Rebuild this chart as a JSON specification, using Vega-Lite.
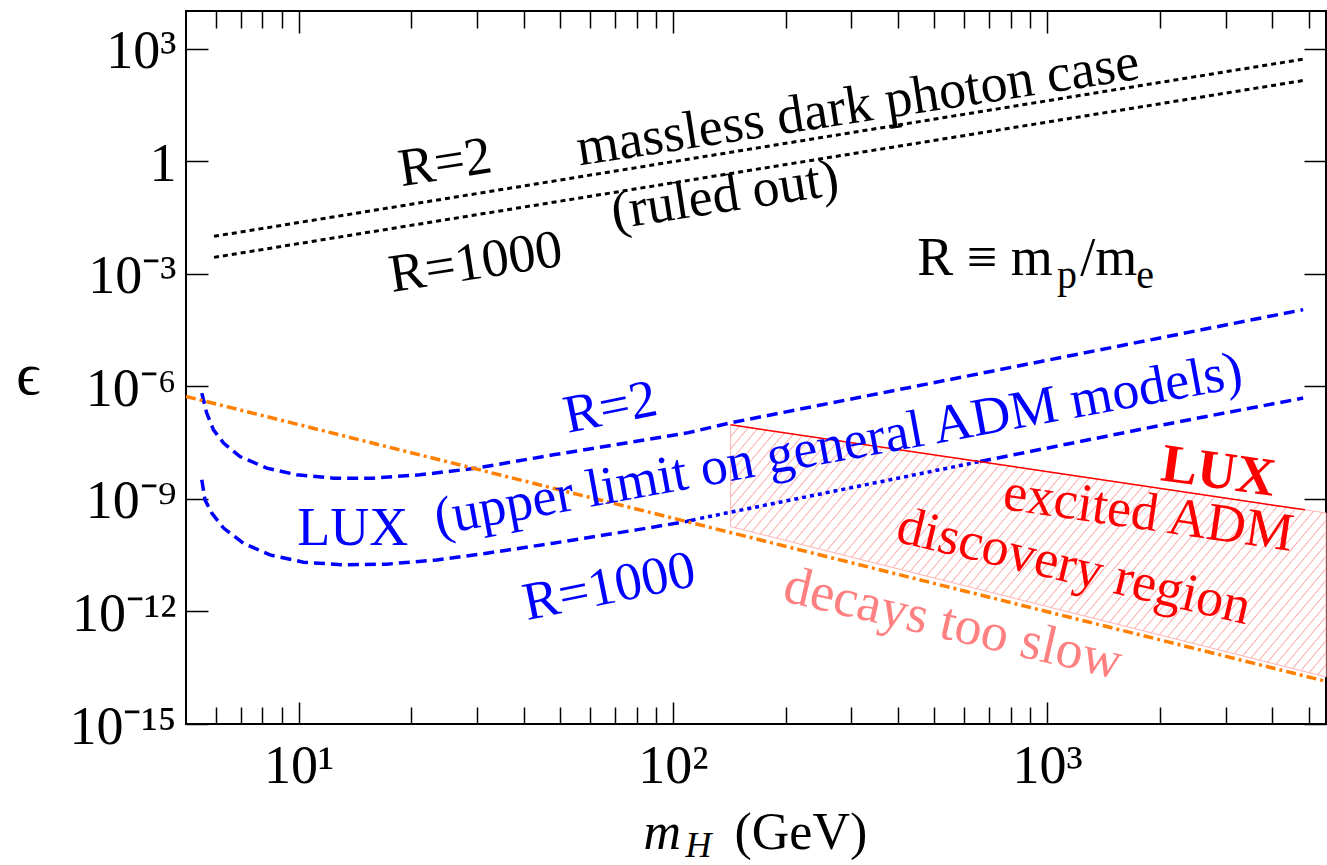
{
  "$schema": "https://vega.github.io/schema/vega-lite/v6.json",
  "width": 1140,
  "height": 713,
  "autosize": {"type": "none"},
  "padding": {"left": 186, "top": 11, "right": 1, "bottom": 141},
  "background": "white",
  "config": {
    "view": {"stroke": "black", "strokeWidth": 2},
    "font": "Liberation Serif",
    "axis": {"grid": false, "domain": false, "labelFont": "Liberation Serif", "titleFont": "Liberation Serif", "labelColor": "black", "titleColor": "black", "tickColor": "black", "tickWidth": 1.5, "titleFontWeight": "normal", "labelFlush": false, "labelOverlap": false, "labelBound": false}
  },
  "resolve": {"axis": {"x": "independent", "y": "independent"}},
  "layer": [
    {
      "data": {"values": [
        {"m": 142.6, "top": 9.4e-8, "bottom": 1.82e-10},
        {"m": 4887, "top": 5.09e-10, "bottom": 2.48e-14},
        {"m": 5560, "top": 4.21e-10, "bottom": 1.79e-14}
      ]},
      "mark": {"type": "area", "stroke": "#ffb4b4", "strokeWidth": 1,
        "fill": {"gradient": "linear", "x1": 0, "y1": 0, "x2": 1.203, "y2": 0.427, "stops": [
{"offset":0,"color":"#ffa8a8"},{"offset":0.0015,"color":"#fff"},{"offset":0.011,"color":"#fff"},{"offset":0.0125,"color":"#ffa8a8"},{"offset":0.014,"color":"#fff"},{"offset":0.0235,"color":"#fff"},{"offset":0.025,"color":"#ffa8a8"},{"offset":0.0265,"color":"#fff"},{"offset":0.036,"color":"#fff"},{"offset":0.0375,"color":"#ffa8a8"},{"offset":0.039,"color":"#fff"},{"offset":0.0485,"color":"#fff"},{"offset":0.05,"color":"#ffa8a8"},{"offset":0.0515,"color":"#fff"},{"offset":0.061,"color":"#fff"},{"offset":0.0625,"color":"#ffa8a8"},{"offset":0.064,"color":"#fff"},{"offset":0.0735,"color":"#fff"},{"offset":0.075,"color":"#ffa8a8"},{"offset":0.0765,"color":"#fff"},{"offset":0.086,"color":"#fff"},{"offset":0.0875,"color":"#ffa8a8"},{"offset":0.089,"color":"#fff"},{"offset":0.0985,"color":"#fff"},
{"offset":0.1,"color":"#ffa8a8"},{"offset":0.1015,"color":"#fff"},{"offset":0.111,"color":"#fff"},{"offset":0.1125,"color":"#ffa8a8"},{"offset":0.114,"color":"#fff"},{"offset":0.1235,"color":"#fff"},{"offset":0.125,"color":"#ffa8a8"},{"offset":0.1265,"color":"#fff"},{"offset":0.136,"color":"#fff"},{"offset":0.1375,"color":"#ffa8a8"},{"offset":0.139,"color":"#fff"},{"offset":0.1485,"color":"#fff"},{"offset":0.15,"color":"#ffa8a8"},{"offset":0.1515,"color":"#fff"},{"offset":0.161,"color":"#fff"},{"offset":0.1625,"color":"#ffa8a8"},{"offset":0.164,"color":"#fff"},{"offset":0.1735,"color":"#fff"},{"offset":0.175,"color":"#ffa8a8"},{"offset":0.1765,"color":"#fff"},{"offset":0.186,"color":"#fff"},{"offset":0.1875,"color":"#ffa8a8"},{"offset":0.189,"color":"#fff"},{"offset":0.1985,"color":"#fff"},
{"offset":0.2,"color":"#ffa8a8"},{"offset":0.2015,"color":"#fff"},{"offset":0.211,"color":"#fff"},{"offset":0.2125,"color":"#ffa8a8"},{"offset":0.214,"color":"#fff"},{"offset":0.2235,"color":"#fff"},{"offset":0.225,"color":"#ffa8a8"},{"offset":0.2265,"color":"#fff"},{"offset":0.236,"color":"#fff"},{"offset":0.2375,"color":"#ffa8a8"},{"offset":0.239,"color":"#fff"},{"offset":0.2485,"color":"#fff"},{"offset":0.25,"color":"#ffa8a8"},{"offset":0.2515,"color":"#fff"},{"offset":0.261,"color":"#fff"},{"offset":0.2625,"color":"#ffa8a8"},{"offset":0.264,"color":"#fff"},{"offset":0.2735,"color":"#fff"},{"offset":0.275,"color":"#ffa8a8"},{"offset":0.2765,"color":"#fff"},{"offset":0.286,"color":"#fff"},{"offset":0.2875,"color":"#ffa8a8"},{"offset":0.289,"color":"#fff"},{"offset":0.2985,"color":"#fff"},
{"offset":0.3,"color":"#ffa8a8"},{"offset":0.3015,"color":"#fff"},{"offset":0.311,"color":"#fff"},{"offset":0.3125,"color":"#ffa8a8"},{"offset":0.314,"color":"#fff"},{"offset":0.3235,"color":"#fff"},{"offset":0.325,"color":"#ffa8a8"},{"offset":0.3265,"color":"#fff"},{"offset":0.336,"color":"#fff"},{"offset":0.3375,"color":"#ffa8a8"},{"offset":0.339,"color":"#fff"},{"offset":0.3485,"color":"#fff"},{"offset":0.35,"color":"#ffa8a8"},{"offset":0.3515,"color":"#fff"},{"offset":0.361,"color":"#fff"},{"offset":0.3625,"color":"#ffa8a8"},{"offset":0.364,"color":"#fff"},{"offset":0.3735,"color":"#fff"},{"offset":0.375,"color":"#ffa8a8"},{"offset":0.3765,"color":"#fff"},{"offset":0.386,"color":"#fff"},{"offset":0.3875,"color":"#ffa8a8"},{"offset":0.389,"color":"#fff"},{"offset":0.3985,"color":"#fff"},
{"offset":0.4,"color":"#ffa8a8"},{"offset":0.4015,"color":"#fff"},{"offset":0.411,"color":"#fff"},{"offset":0.4125,"color":"#ffa8a8"},{"offset":0.414,"color":"#fff"},{"offset":0.4235,"color":"#fff"},{"offset":0.425,"color":"#ffa8a8"},{"offset":0.4265,"color":"#fff"},{"offset":0.436,"color":"#fff"},{"offset":0.4375,"color":"#ffa8a8"},{"offset":0.439,"color":"#fff"},{"offset":0.4485,"color":"#fff"},{"offset":0.45,"color":"#ffa8a8"},{"offset":0.4515,"color":"#fff"},{"offset":0.461,"color":"#fff"},{"offset":0.4625,"color":"#ffa8a8"},{"offset":0.464,"color":"#fff"},{"offset":0.4735,"color":"#fff"},{"offset":0.475,"color":"#ffa8a8"},{"offset":0.4765,"color":"#fff"},{"offset":0.486,"color":"#fff"},{"offset":0.4875,"color":"#ffa8a8"},{"offset":0.489,"color":"#fff"},{"offset":0.4985,"color":"#fff"},
{"offset":0.5,"color":"#ffa8a8"},{"offset":0.5015,"color":"#fff"},{"offset":0.511,"color":"#fff"},{"offset":0.5125,"color":"#ffa8a8"},{"offset":0.514,"color":"#fff"},{"offset":0.5235,"color":"#fff"},{"offset":0.525,"color":"#ffa8a8"},{"offset":0.5265,"color":"#fff"},{"offset":0.536,"color":"#fff"},{"offset":0.5375,"color":"#ffa8a8"},{"offset":0.539,"color":"#fff"},{"offset":0.5485,"color":"#fff"},{"offset":0.55,"color":"#ffa8a8"},{"offset":0.5515,"color":"#fff"},{"offset":0.561,"color":"#fff"},{"offset":0.5625,"color":"#ffa8a8"},{"offset":0.564,"color":"#fff"},{"offset":0.5735,"color":"#fff"},{"offset":0.575,"color":"#ffa8a8"},{"offset":0.5765,"color":"#fff"},{"offset":0.586,"color":"#fff"},{"offset":0.5875,"color":"#ffa8a8"},{"offset":0.589,"color":"#fff"},{"offset":0.5985,"color":"#fff"},
{"offset":0.6,"color":"#ffa8a8"},{"offset":0.6015,"color":"#fff"},{"offset":0.611,"color":"#fff"},{"offset":0.6125,"color":"#ffa8a8"},{"offset":0.614,"color":"#fff"},{"offset":0.6235,"color":"#fff"},{"offset":0.625,"color":"#ffa8a8"},{"offset":0.6265,"color":"#fff"},{"offset":0.636,"color":"#fff"},{"offset":0.6375,"color":"#ffa8a8"},{"offset":0.639,"color":"#fff"},{"offset":0.6485,"color":"#fff"},{"offset":0.65,"color":"#ffa8a8"},{"offset":0.6515,"color":"#fff"},{"offset":0.661,"color":"#fff"},{"offset":0.6625,"color":"#ffa8a8"},{"offset":0.664,"color":"#fff"},{"offset":0.6735,"color":"#fff"},{"offset":0.675,"color":"#ffa8a8"},{"offset":0.6765,"color":"#fff"},{"offset":0.686,"color":"#fff"},{"offset":0.6875,"color":"#ffa8a8"},{"offset":0.689,"color":"#fff"},{"offset":0.6985,"color":"#fff"},
{"offset":0.7,"color":"#ffa8a8"},{"offset":0.7015,"color":"#fff"},{"offset":0.711,"color":"#fff"},{"offset":0.7125,"color":"#ffa8a8"},{"offset":0.714,"color":"#fff"},{"offset":0.7235,"color":"#fff"},{"offset":0.725,"color":"#ffa8a8"},{"offset":0.7265,"color":"#fff"},{"offset":0.736,"color":"#fff"},{"offset":0.7375,"color":"#ffa8a8"},{"offset":0.739,"color":"#fff"},{"offset":0.7485,"color":"#fff"},{"offset":0.75,"color":"#ffa8a8"},{"offset":0.7515,"color":"#fff"},{"offset":0.761,"color":"#fff"},{"offset":0.7625,"color":"#ffa8a8"},{"offset":0.764,"color":"#fff"},{"offset":0.7735,"color":"#fff"},{"offset":0.775,"color":"#ffa8a8"},{"offset":0.7765,"color":"#fff"},{"offset":0.786,"color":"#fff"},{"offset":0.7875,"color":"#ffa8a8"},{"offset":0.789,"color":"#fff"},{"offset":0.7985,"color":"#fff"},
{"offset":0.8,"color":"#ffa8a8"},{"offset":0.8015,"color":"#fff"},{"offset":0.811,"color":"#fff"},{"offset":0.8125,"color":"#ffa8a8"},{"offset":0.814,"color":"#fff"},{"offset":0.8235,"color":"#fff"},{"offset":0.825,"color":"#ffa8a8"},{"offset":0.8265,"color":"#fff"},{"offset":0.836,"color":"#fff"},{"offset":0.8375,"color":"#ffa8a8"},{"offset":0.839,"color":"#fff"},{"offset":0.8485,"color":"#fff"},{"offset":0.85,"color":"#ffa8a8"},{"offset":0.8515,"color":"#fff"},{"offset":0.861,"color":"#fff"},{"offset":0.8625,"color":"#ffa8a8"},{"offset":0.864,"color":"#fff"},{"offset":0.8735,"color":"#fff"},{"offset":0.875,"color":"#ffa8a8"},{"offset":0.8765,"color":"#fff"},{"offset":0.886,"color":"#fff"},{"offset":0.8875,"color":"#ffa8a8"},{"offset":0.889,"color":"#fff"},{"offset":0.8985,"color":"#fff"},
{"offset":0.9,"color":"#ffa8a8"},{"offset":0.9015,"color":"#fff"},{"offset":0.911,"color":"#fff"},{"offset":0.9125,"color":"#ffa8a8"},{"offset":0.914,"color":"#fff"},{"offset":0.9235,"color":"#fff"},{"offset":0.925,"color":"#ffa8a8"},{"offset":0.9265,"color":"#fff"},{"offset":0.936,"color":"#fff"},{"offset":0.9375,"color":"#ffa8a8"},{"offset":0.939,"color":"#fff"},{"offset":0.9485,"color":"#fff"},{"offset":0.95,"color":"#ffa8a8"},{"offset":0.9515,"color":"#fff"},{"offset":0.961,"color":"#fff"},{"offset":0.9625,"color":"#ffa8a8"},{"offset":0.964,"color":"#fff"},{"offset":0.9735,"color":"#fff"},{"offset":0.975,"color":"#ffa8a8"},{"offset":0.9765,"color":"#fff"},{"offset":0.986,"color":"#fff"},{"offset":0.9875,"color":"#ffa8a8"},{"offset":0.989,"color":"#fff"},{"offset":0.9985,"color":"#fff"},
{"offset":1,"color":"#ffa8a8"}
        ]}},
      "encoding": {
        "x": {"field": "m", "type": "quantitative", "scale": {"type": "log", "domain": [5, 5560], "nice": false},
          "axis": {"orient": "bottom", "values": [10, 100, 1000], "tickSize": -22, "labelFontSize": 54, "labelPadding": 80, "labelBaseline": "alphabetic",
            "labelExpr": "datum.value == 10 ? '10¹' : datum.value == 100 ? '10²' : '10³'",
            "title": "(GeV)", "titleFontSize": 52, "titleX": 548, "titleY": 124, "titleAlign": "left", "titleBaseline": "alphabetic"}},
        "y": {"field": "top", "type": "quantitative", "scale": {"type": "log", "domain": [1e-15, 10000], "nice": false},
          "axis": {"orient": "left", "values": [1e-15, 1e-12, 1e-9, 1e-6, 0.001, 1, 1000], "tickSize": -22, "labelFontSize": 54, "labelPadding": 32, "labelAlign": "right", "labelBaseline": "alphabetic", "labelOffset": 19,
            "labelExpr": "datum.value >= 100 ? '10³' : datum.value >= 0.5 ? '1' : datum.value >= 0.0005 ? '10⁻³' : datum.value >= 0.0000005 ? '10⁻⁶' : datum.value >= 0.0000000005 ? '10⁻⁹' : datum.value >= 0.0000000000005 ? '10⁻¹²' : '10⁻¹⁵'",
            "title": "ϵ", "titleAngle": 0, "titleFontSize": 60, "titleX": -158, "titleY": 382, "titleAlign": "center", "titleBaseline": "alphabetic"}},
        "y2": {"field": "bottom"}
      }
    },
    {
      "data": {"values": [
        {"curve": "R2", "m": 5.94, "eps": 0.00989},
        {"curve": "R2", "m": 4887, "eps": 531},
        {"curve": "R1000", "m": 5.94, "eps": 0.00272},
        {"curve": "R1000", "m": 4887, "eps": 143}
      ]},
      "mark": {"type": "line", "color": "black", "strokeWidth": 3, "strokeDash": [5, 4]},
      "encoding": {
        "x": {"field": "m", "type": "quantitative", "scale": {"type": "log", "domain": [5, 5560], "nice": false},
          "axis": {"orient": "bottom", "values": [6, 7, 8, 9, 20, 30, 40, 50, 60, 70, 80, 90, 200, 300, 400, 500, 600, 700, 800, 900, 2000, 3000, 4000, 5000], "tickSize": -17, "labels": false,
            "title": "m", "titleFontStyle": "italic", "titleFontSize": 52, "titleX": 457, "titleY": 124, "titleAlign": "left", "titleBaseline": "alphabetic"}},
        "y": {"field": "eps", "type": "quantitative", "scale": {"type": "log", "domain": [1e-15, 10000], "nice": false},
          "axis": {"orient": "right", "values": [1e-15, 1e-12, 1e-9, 1e-6, 0.001, 1, 1000], "tickSize": -22, "labels": false, "title": null}},
        "detail": {"field": "curve"}
      }
    },
    {
      "data": {"values": [
        {"seg": "R2", "m": 5.51, "eps": 6.59e-7},
        {"seg": "R2", "m": 5.68, "eps": 1.93e-7},
        {"seg": "R2", "m": 5.92, "eps": 6.92e-8},
        {"seg": "R2", "m": 6.30, "eps": 3.06e-8},
        {"seg": "R2", "m": 6.97, "eps": 1.34e-8},
        {"seg": "R2", "m": 8.22, "eps": 6.59e-9},
        {"seg": "R2", "m": 9.88, "eps": 4.37e-9},
        {"seg": "R2", "m": 12.4, "eps": 3.56e-9},
        {"seg": "R2", "m": 15.8, "eps": 3.56e-9},
        {"seg": "R2", "m": 21.1, "eps": 4.37e-9},
        {"seg": "R2", "m": 29.9, "eps": 6.59e-9},
        {"seg": "R2", "m": 47.9, "eps": 1.49e-8},
        {"seg": "R2", "m": 108.6, "eps": 5.65e-8},
        {"seg": "R2", "m": 142.6, "eps": 1.06e-7},
        {"seg": "R2", "m": 4831, "eps": 1.10e-4},
        {"seg": "R1000a", "m": 5.51, "eps": 3.21e-9},
        {"seg": "R1000a", "m": 5.62, "eps": 9.40e-10},
        {"seg": "R1000a", "m": 5.86, "eps": 4.16e-10},
        {"seg": "R1000a", "m": 6.30, "eps": 1.66e-10},
        {"seg": "R1000a", "m": 7.11, "eps": 6.59e-11},
        {"seg": "R1000a", "m": 8.38, "eps": 3.21e-11},
        {"seg": "R1000a", "m": 10.3, "eps": 2.05e-11},
        {"seg": "R1000a", "m": 13.2, "eps": 1.74e-11},
        {"seg": "R1000a", "m": 17.2, "eps": 1.82e-11},
        {"seg": "R1000a", "m": 23.4, "eps": 2.36e-11},
        {"seg": "R1000a", "m": 31.8, "eps": 3.56e-11},
        {"seg": "R1000a", "m": 47.9, "eps": 6.59e-11},
        {"seg": "R1000a", "m": 79.9, "eps": 1.49e-10},
        {"seg": "R1000a", "m": 108.6, "eps": 2.48e-10},
        {"seg": "R1000a", "m": 118.3, "eps": 3.02e-10},
        {"seg": "R1000c", "m": 662, "eps": 9.89e-9},
        {"seg": "R1000c", "m": 2265, "eps": 1.15e-7},
        {"seg": "R1000c", "m": 4831, "eps": 4.84e-7}
      ]},
      "mark": {"type": "line", "color": "#0000ff", "strokeWidth": 3.5, "strokeDash": [11, 6]},
      "encoding": {
        "x": {"field": "m", "type": "quantitative", "scale": {"type": "log", "domain": [5, 5560], "nice": false},
          "axis": {"orient": "top", "values": [6, 7, 8, 9, 20, 30, 40, 50, 60, 70, 80, 90, 200, 300, 400, 500, 600, 700, 800, 900, 2000, 3000, 4000, 5000], "tickSize": -17, "labels": false, "title": null}},
        "y": {"field": "eps", "type": "quantitative", "scale": {"type": "log", "domain": [1e-15, 10000], "nice": false}, "axis": null},
        "detail": {"field": "seg"}
      }
    },
    {
      "data": {"values": [
        {"m": 118.3, "eps": 3.02e-10},
        {"m": 662, "eps": 9.89e-9}
      ]},
      "mark": {"type": "line", "color": "#0000ff", "strokeWidth": 3.5, "strokeDash": [4, 4]},
      "encoding": {
        "x": {"field": "m", "type": "quantitative", "scale": {"type": "log", "domain": [5, 5560], "nice": false},
          "axis": {"orient": "top", "values": [10, 100, 1000], "tickSize": -22, "labels": false, "title": null}},
        "y": {"field": "eps", "type": "quantitative", "scale": {"type": "log", "domain": [1e-15, 10000], "nice": false}, "axis": null}
      }
    },
    {
      "data": {"values": [
        {"m": 5, "eps": 5.35e-7},
        {"m": 5560, "eps": 1.37e-14}
      ]},
      "mark": {"type": "line", "color": "#ff8000", "strokeWidth": 3.5, "strokeDash": [10, 4, 3, 4]},
      "encoding": {
        "x": {"field": "m", "type": "quantitative", "scale": {"type": "log", "domain": [5, 5560], "nice": false},
          "axis": {"orient": "bottom", "ticks": false, "labels": false, "domain": false, "title": "H", "titleFontStyle": "italic", "titleFontSize": 36, "titleX": 499, "titleY": 132, "titleAlign": "left", "titleBaseline": "alphabetic"}},
        "y": {"field": "eps", "type": "quantitative", "scale": {"type": "log", "domain": [1e-15, 10000], "nice": false}, "axis": null}
      }
    },
    {
      "data": {"values": [
        {"m": 142.6, "eps": 9.4e-8},
        {"m": 4887, "eps": 5.09e-10}
      ]},
      "mark": {"type": "line", "color": "#ff0000", "strokeWidth": 1.5},
      "encoding": {
        "x": {"field": "m", "type": "quantitative", "scale": {"type": "log", "domain": [5, 5560], "nice": false}, "axis": null},
        "y": {"field": "eps", "type": "quantitative", "scale": {"type": "log", "domain": [1e-15, 10000], "nice": false}, "axis": null}
      }
    },
    {
      "data": {"values": [
        {"label": "R=2", "m": 25.0, "eps": 0.331},
        {"label": "massless dark photon case", "m": 316.8, "eps": 10.96},
        {"label": "(ruled out)", "m": 139.8, "eps": 0.045},
        {"label": "R=1000", "m": 30.2, "eps": 0.000736}
      ]},
      "mark": {"type": "text", "font": "Liberation Serif", "fontSize": 54, "color": "black", "angle": 351.2, "align": "center", "baseline": "alphabetic"},
      "encoding": {
        "x": {"field": "m", "type": "quantitative", "scale": {"type": "log", "domain": [5, 5560], "nice": false}, "axis": null},
        "y": {"field": "eps", "type": "quantitative", "scale": {"type": "log", "domain": [1e-15, 10000], "nice": false}, "axis": null},
        "text": {"field": "label"}
      }
    },
    {
      "data": {"values": [
        {"label": "R ≡ m", "m": 449.8, "eps": 0.00094},
        {"label": "/m", "m": 1225, "eps": 0.00094}
      ]},
      "mark": {"type": "text", "font": "Liberation Serif", "fontSize": 54, "color": "black", "align": "left", "baseline": "alphabetic"},
      "encoding": {
        "x": {"field": "m", "type": "quantitative", "scale": {"type": "log", "domain": [5, 5560], "nice": false}, "axis": null},
        "y": {"field": "eps", "type": "quantitative", "scale": {"type": "log", "domain": [1e-15, 10000], "nice": false}, "axis": null},
        "text": {"field": "label"}
      }
    },
    {
      "data": {"values": [
        {"label": "p", "m": 1063, "eps": 0.000423},
        {"label": "e", "m": 1729, "eps": 0.000423}
      ]},
      "mark": {"type": "text", "font": "Liberation Serif", "fontSize": 40, "color": "black", "align": "left", "baseline": "alphabetic"},
      "encoding": {
        "x": {"field": "m", "type": "quantitative", "scale": {"type": "log", "domain": [5, 5560], "nice": false}, "axis": null},
        "y": {"field": "eps", "type": "quantitative", "scale": {"type": "log", "domain": [1e-15, 10000], "nice": false}, "axis": null},
        "text": {"field": "label"}
      }
    },
    {
      "data": {"values": [
        {"label": "R=2", "m": 69.4, "eps": 1e-7},
        {"label": "R=1000", "m": 68.9, "eps": 1.69e-12}
      ]},
      "mark": {"type": "text", "font": "Liberation Serif", "fontSize": 54, "color": "#0000ff", "angle": 348.5, "align": "center", "baseline": "alphabetic"},
      "encoding": {
        "x": {"field": "m", "type": "quantitative", "scale": {"type": "log", "domain": [5, 5560], "nice": false}, "axis": null},
        "y": {"field": "eps", "type": "quantitative", "scale": {"type": "log", "domain": [1e-15, 10000], "nice": false}, "axis": null},
        "text": {"field": "label"}
      }
    },
    {
      "data": {"values": [
        {"label": "(upper limit on general ADM models)", "m": 281.8, "eps": 1.03e-8}
      ]},
      "mark": {"type": "text", "font": "Liberation Serif", "fontSize": 54, "color": "#0000ff", "angle": 349.6, "align": "center", "baseline": "alphabetic"},
      "encoding": {
        "x": {"field": "m", "type": "quantitative", "scale": {"type": "log", "domain": [5, 5560], "nice": false}, "axis": null},
        "y": {"field": "eps", "type": "quantitative", "scale": {"type": "log", "domain": [1e-15, 10000], "nice": false}, "axis": null},
        "text": {"field": "label"}
      }
    },
    {
      "data": {"values": [
        {"label": "LUX", "m": 13.94, "eps": 5.93e-11}
      ]},
      "mark": {"type": "text", "font": "Liberation Serif", "fontSize": 54, "color": "#0000ff", "align": "center", "baseline": "alphabetic"},
      "encoding": {
        "x": {"field": "m", "type": "quantitative", "scale": {"type": "log", "domain": [5, 5560], "nice": false}, "axis": null},
        "y": {"field": "eps", "type": "quantitative", "scale": {"type": "log", "domain": [1e-15, 10000], "nice": false}, "axis": null},
        "text": {"field": "label"}
      }
    },
    {
      "data": {"values": [
        {"label": "LUX", "m": 2827, "eps": 1.96e-9}
      ]},
      "mark": {"type": "text", "font": "Liberation Serif", "fontSize": 54, "fontWeight": "bold", "color": "#ff0000", "angle": 8, "align": "center", "baseline": "alphabetic"},
      "encoding": {
        "x": {"field": "m", "type": "quantitative", "scale": {"type": "log", "domain": [5, 5560], "nice": false}, "axis": null},
        "y": {"field": "eps", "type": "quantitative", "scale": {"type": "log", "domain": [1e-15, 10000], "nice": false}, "axis": null},
        "text": {"field": "label"}
      }
    },
    {
      "data": {"values": [
        {"label": "excited ADM", "m": 1838, "eps": 1.49e-10}
      ]},
      "mark": {"type": "text", "font": "Liberation Serif", "fontSize": 54, "color": "#ff0000", "angle": 8.3, "align": "center", "baseline": "alphabetic"},
      "encoding": {
        "x": {"field": "m", "type": "quantitative", "scale": {"type": "log", "domain": [5, 5560], "nice": false}, "axis": null},
        "y": {"field": "eps", "type": "quantitative", "scale": {"type": "log", "domain": [1e-15, 10000], "nice": false}, "axis": null},
        "text": {"field": "label"}
      }
    },
    {
      "data": {"values": [
        {"label": "discovery region", "m": 1152, "eps": 5.75e-12}
      ]},
      "mark": {"type": "text", "font": "Liberation Serif", "fontSize": 54, "color": "#ff0000", "angle": 13.3, "align": "center", "baseline": "alphabetic"},
      "encoding": {
        "x": {"field": "m", "type": "quantitative", "scale": {"type": "log", "domain": [5, 5560], "nice": false}, "axis": null},
        "y": {"field": "eps", "type": "quantitative", "scale": {"type": "log", "domain": [1e-15, 10000], "nice": false}, "axis": null},
        "text": {"field": "label"}
      }
    },
    {
      "data": {"values": [
        {"label": "decays too slow", "m": 547.3, "eps": 1.74e-13}
      ]},
      "mark": {"type": "text", "font": "Liberation Serif", "fontSize": 54, "color": "#ff8080", "angle": 13.1, "align": "center", "baseline": "alphabetic"},
      "encoding": {
        "x": {"field": "m", "type": "quantitative", "scale": {"type": "log", "domain": [5, 5560], "nice": false}, "axis": null},
        "y": {"field": "eps", "type": "quantitative", "scale": {"type": "log", "domain": [1e-15, 10000], "nice": false}, "axis": null},
        "text": {"field": "label"}
      }
    }
  ]
}
